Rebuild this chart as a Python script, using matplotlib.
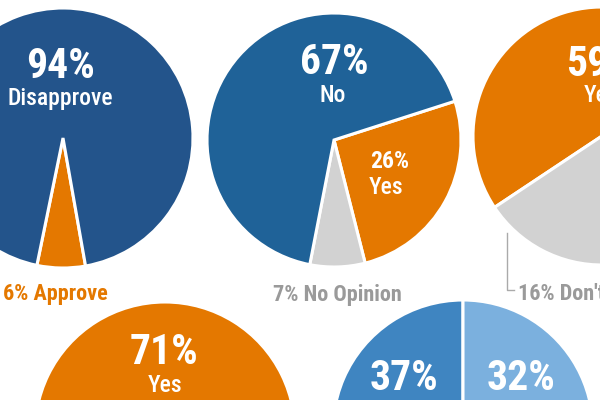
import matplotlib
matplotlib.use("Agg")
import matplotlib.pyplot as plt

# ---- data ----
p1_labels = ["Approve", "Disapprove"]
p1_values = [6, 94]
p2_labels = ["Yes", "No Opinion", "No"]
p2_values = [26, 7, 67]
p3_labels = ["Yes", "No", "Don't know"]
p3_values = [59, 25, 16]
p4_labels = ["Yes", "No"]
p4_values = [71, 29]
p5_labels = ["A", "C", "B"]
p5_values = [37, 31, 32]

ORANGE = "#E47800"
BLUE1 = "#23548B"
BLUE2 = "#1F6298"
GRAY = "#D2D2D2"
GRAYTXT = "#9A9A9A"
BLUE5A = "#3F85C1"
BLUE5B = "#7BB0DE"

FONT = ["Roboto Condensed", "DejaVu Sans"]
plt.rcParams["font.family"] = FONT

fig = plt.figure(figsize=(6, 4), dpi=100)
ax = fig.add_axes([0, 0, 1, 1])
H = 400

def Y(y):
    return H - y

wp = dict(edgecolor="white", linewidth=2.2)

# pie 1
ax.pie(p1_values, colors=[ORANGE, BLUE1], startangle=-80, counterclock=False,
       center=(63, Y(138)), radius=130, wedgeprops=wp, frame=True)
# pie 2
ax.pie(p2_values, colors=[ORANGE, GRAY, BLUE2], startangle=17.8, counterclock=False,
       center=(334, Y(140)), radius=127, wedgeprops=wp, frame=True)
# pie 3
ax.pie(p3_values, colors=[ORANGE, BLUE2, GRAY], startangle=213.6, counterclock=False,
       center=(602, Y(136)), radius=129, wedgeprops=wp, frame=True)
# pie 4
ax.pie(p4_values, colors=[ORANGE, BLUE2], startangle=217.8, counterclock=False,
       center=(165, Y(432)), radius=130, wedgeprops=wp, frame=True)
# pie 5
ax.pie(p5_values, colors=[BLUE5A, BLUE1, BLUE5B], startangle=90, counterclock=True,
       center=(463, Y(430)), radius=130, wedgeprops=wp, frame=True)

ax.set_xlim(0, 600)
ax.set_ylim(0, 400)
ax.axis("off")

def txt(x, y, s, size, color="white", ha="center", weight="bold"):
    ax.text(x, Y(y), s, fontsize=size, color=color, ha=ha, va="center",
            fontweight=weight, family=FONT)

# pie 1 labels
txt(61, 67, f"{p1_values[1]}%", 30)
txt(60, 99, p1_labels[1], 17, weight="medium")
txt(55, 294, f"{p1_values[0]}% {p1_labels[0]}", 16, ORANGE)
# pie 2 labels
txt(334, 63, f"{p2_values[2]}%", 30)
txt(333, 96, p2_labels[2], 17, weight="medium")
txt(390, 162, f"{p2_values[0]}%", 17)
txt(386, 187, p2_labels[0], 17, weight="medium")
txt(337, 295, f"{p2_values[1]}% {p2_labels[1]}", 16, GRAYTXT)
# pie 3 labels
txt(601, 64, f"{p3_values[0]}%", 30)
txt(601, 95, p3_labels[0], 17, weight="medium")
ax.plot([507, 507, 514], [Y(233), Y(290), Y(290)], color="#AAAAAA", lw=1)
txt(518, 294, f"{p3_values[2]}% {p3_labels[2]}", 16, GRAYTXT, ha="left")
# pie 4 labels
txt(164, 353, f"{p4_values[0]}%", 30)
txt(165, 385, p4_labels[0], 17, weight="medium")
# pie 5 labels
txt(404, 378, f"{p5_values[0]}%", 30)
txt(521, 378, f"{p5_values[2]}%", 30)

fig.savefig("out.png", dpi=100, facecolor="white")
